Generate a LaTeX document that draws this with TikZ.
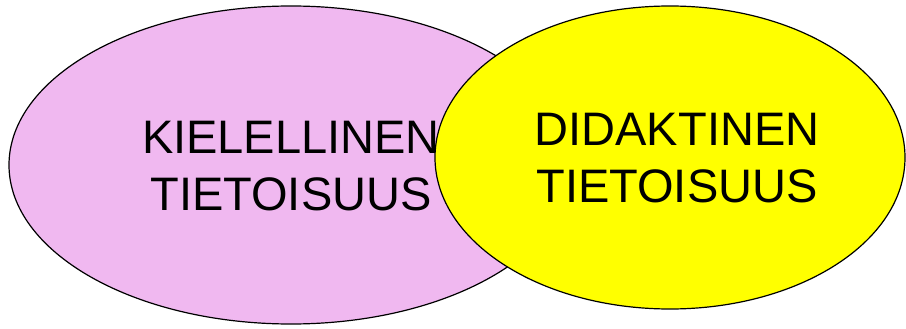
\documentclass[tikz,border=0pt]{standalone}
\usepackage{fontspec}
\setmainfont{Liberation Sans}
\usetikzlibrary{shapes.geometric}
\definecolor{lilac}{RGB}{240,184,240}
\definecolor{brightyellow}{RGB}{255,255,0}
\tikzset{
  field/.style={ellipse, draw=black, line width=1.2pt, inner sep=0pt},
  caption/.style={inner sep=0pt, align=center,
    font={\fontsize{47}{57}\selectfont}},
}
\begin{document}
\begin{tikzpicture}[x=1pt, y=-1pt]
  \useasboundingbox (0,0) rectangle (906,329);
  % linguistic awareness
  \node[field, fill=lilac, minimum width=564pt, minimum height=318pt]
    (kiel) at (291,165) {};
  \node[caption] (kieltext) at (291,166) {KIELELLINEN\\TIETOISUUS};
  % didactic awareness, overlapping on top
  \node[field, fill=brightyellow, minimum width=470pt, minimum height=303pt]
    (did) at (670,157.5) {};
  \node[caption] (didtext) at (677,158) {DIDAKTINEN\\TIETOISUUS};
\end{tikzpicture}
\end{document}
